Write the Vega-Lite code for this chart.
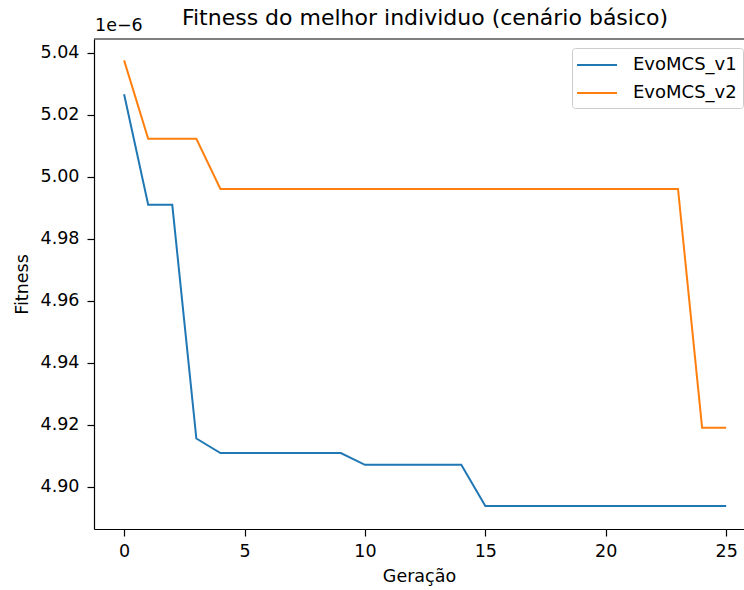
{
  "$schema": "https://vega.github.io/schema/vega-lite/v6.json",
  "width": 650,
  "height": 490,
  "autosize": "none",
  "padding": {"left": 94, "top": 39, "right": 0, "bottom": 61},
  "background": "white",
  "config": {
    "font": "DejaVu Sans",
    "view": {"stroke": null},
    "axis": {"grid": false, "domain": true, "domainColor": "#000", "domainWidth": 1.2, "tickColor": "#000", "tickSize": 7, "tickWidth": 1.2, "labelFontSize": 17.5, "labelColor": "#000", "titleFontSize": 17.5, "titleFontWeight": "normal", "titleColor": "#000", "labelFont": "DejaVu Sans", "titleFont": "DejaVu Sans"}
  },
  "title": {"text": "Fitness do melhor individuo (cenário básico)", "fontSize": 22, "fontWeight": "normal", "font": "DejaVu Sans", "color": "#000", "anchor": "middle", "frame": "group", "offset": -12.5, "dx": 6},
  "layer": [
    {
      "data": {"values": [
        {"geracao": 0, "fitness": 5.0266e-6, "serie": "EvoMCS_v1"},
        {"geracao": 1, "fitness": 4.9909e-6, "serie": "EvoMCS_v1"},
        {"geracao": 2, "fitness": 4.9909e-6, "serie": "EvoMCS_v1"},
        {"geracao": 3, "fitness": 4.9155e-6, "serie": "EvoMCS_v1"},
        {"geracao": 4, "fitness": 4.9108e-6, "serie": "EvoMCS_v1"},
        {"geracao": 5, "fitness": 4.9108e-6, "serie": "EvoMCS_v1"},
        {"geracao": 6, "fitness": 4.9108e-6, "serie": "EvoMCS_v1"},
        {"geracao": 7, "fitness": 4.9108e-6, "serie": "EvoMCS_v1"},
        {"geracao": 8, "fitness": 4.9108e-6, "serie": "EvoMCS_v1"},
        {"geracao": 9, "fitness": 4.9108e-6, "serie": "EvoMCS_v1"},
        {"geracao": 10, "fitness": 4.9070e-6, "serie": "EvoMCS_v1"},
        {"geracao": 11, "fitness": 4.9070e-6, "serie": "EvoMCS_v1"},
        {"geracao": 12, "fitness": 4.9070e-6, "serie": "EvoMCS_v1"},
        {"geracao": 13, "fitness": 4.9070e-6, "serie": "EvoMCS_v1"},
        {"geracao": 14, "fitness": 4.9070e-6, "serie": "EvoMCS_v1"},
        {"geracao": 15, "fitness": 4.8937e-6, "serie": "EvoMCS_v1"},
        {"geracao": 16, "fitness": 4.8937e-6, "serie": "EvoMCS_v1"},
        {"geracao": 17, "fitness": 4.8937e-6, "serie": "EvoMCS_v1"},
        {"geracao": 18, "fitness": 4.8937e-6, "serie": "EvoMCS_v1"},
        {"geracao": 19, "fitness": 4.8937e-6, "serie": "EvoMCS_v1"},
        {"geracao": 20, "fitness": 4.8937e-6, "serie": "EvoMCS_v1"},
        {"geracao": 21, "fitness": 4.8937e-6, "serie": "EvoMCS_v1"},
        {"geracao": 22, "fitness": 4.8937e-6, "serie": "EvoMCS_v1"},
        {"geracao": 23, "fitness": 4.8937e-6, "serie": "EvoMCS_v1"},
        {"geracao": 24, "fitness": 4.8937e-6, "serie": "EvoMCS_v1"},
        {"geracao": 25, "fitness": 4.8937e-6, "serie": "EvoMCS_v1"},
        {"geracao": 0, "fitness": 5.0375e-6, "serie": "EvoMCS_v2"},
        {"geracao": 1, "fitness": 5.0122e-6, "serie": "EvoMCS_v2"},
        {"geracao": 2, "fitness": 5.0122e-6, "serie": "EvoMCS_v2"},
        {"geracao": 3, "fitness": 5.0122e-6, "serie": "EvoMCS_v2"},
        {"geracao": 4, "fitness": 4.9960e-6, "serie": "EvoMCS_v2"},
        {"geracao": 5, "fitness": 4.9960e-6, "serie": "EvoMCS_v2"},
        {"geracao": 6, "fitness": 4.9960e-6, "serie": "EvoMCS_v2"},
        {"geracao": 7, "fitness": 4.9960e-6, "serie": "EvoMCS_v2"},
        {"geracao": 8, "fitness": 4.9960e-6, "serie": "EvoMCS_v2"},
        {"geracao": 9, "fitness": 4.9960e-6, "serie": "EvoMCS_v2"},
        {"geracao": 10, "fitness": 4.9960e-6, "serie": "EvoMCS_v2"},
        {"geracao": 11, "fitness": 4.9960e-6, "serie": "EvoMCS_v2"},
        {"geracao": 12, "fitness": 4.9960e-6, "serie": "EvoMCS_v2"},
        {"geracao": 13, "fitness": 4.9960e-6, "serie": "EvoMCS_v2"},
        {"geracao": 14, "fitness": 4.9960e-6, "serie": "EvoMCS_v2"},
        {"geracao": 15, "fitness": 4.9960e-6, "serie": "EvoMCS_v2"},
        {"geracao": 16, "fitness": 4.9960e-6, "serie": "EvoMCS_v2"},
        {"geracao": 17, "fitness": 4.9960e-6, "serie": "EvoMCS_v2"},
        {"geracao": 18, "fitness": 4.9960e-6, "serie": "EvoMCS_v2"},
        {"geracao": 19, "fitness": 4.9960e-6, "serie": "EvoMCS_v2"},
        {"geracao": 20, "fitness": 4.9960e-6, "serie": "EvoMCS_v2"},
        {"geracao": 21, "fitness": 4.9960e-6, "serie": "EvoMCS_v2"},
        {"geracao": 22, "fitness": 4.9960e-6, "serie": "EvoMCS_v2"},
        {"geracao": 23, "fitness": 4.9960e-6, "serie": "EvoMCS_v2"},
        {"geracao": 24, "fitness": 4.9190e-6, "serie": "EvoMCS_v2"},
        {"geracao": 25, "fitness": 4.9190e-6, "serie": "EvoMCS_v2"}
      ]},
      "mark": {"type": "line", "strokeWidth": 2, "clip": true},
      "encoding": {
        "x": {"field": "geracao", "type": "quantitative", "title": "Geração",
          "scale": {"domain": [-1.25, 25.74], "nice": false, "zero": false},
          "axis": {"values": [0, 5, 10, 15, 20, 25], "labelPadding": 6, "titlePadding": 8}},
        "y": {"field": "fitness", "type": "quantitative", "title": "Fitness",
          "scale": {"domain": [4.8863e-6, 5.0444e-6], "nice": false, "zero": false},
          "axis": {"values": [4.90e-6, 4.92e-6, 4.94e-6, 4.96e-6, 4.98e-6, 5.00e-6, 5.02e-6, 5.04e-6],
            "labelExpr": "format(datum.value * 1e6, '.2f')", "labelPadding": 8, "titlePadding": 9}},
        "color": {"field": "serie", "type": "nominal", "title": null,
          "scale": {"domain": ["EvoMCS_v1", "EvoMCS_v2"], "range": ["#1f77b4", "#ff7f0e"]},
          "legend": {"orient": "none", "legendX": 478, "legendY": 9, "symbolType": "M-1.2,0H2.8", "symbolSize": 400, "symbolStrokeWidth": 2, "symbolFillColor": "transparent", "labelFontSize": 18, "labelFont": "DejaVu Sans", "labelColor": "#000", "rowPadding": 8, "padding": 6, "fillColor": "rgba(255,255,255,0.8)", "strokeColor": "#cccccc", "cornerRadius": 3, "labelOffset": 33}}
      }
    },
    {
      "data": {"values": [{"top": 5.0444e-6}]},
      "mark": {"type": "rule", "color": "#000", "strokeWidth": 1.2, "clip": false},
      "encoding": {
        "y": {"field": "top", "type": "quantitative"}
      }
    },
    {
      "data": {"values": [{"label": "1e−6"}]},
      "mark": {"type": "text", "align": "left", "baseline": "bottom", "fontSize": 17.5, "font": "DejaVu Sans", "color": "#000", "dx": 1, "dy": -4},
      "encoding": {
        "text": {"field": "label"},
        "x": {"datum": -1.25, "type": "quantitative"},
        "y": {"datum": 5.0444e-6, "type": "quantitative"}
      }
    }
  ]
}
